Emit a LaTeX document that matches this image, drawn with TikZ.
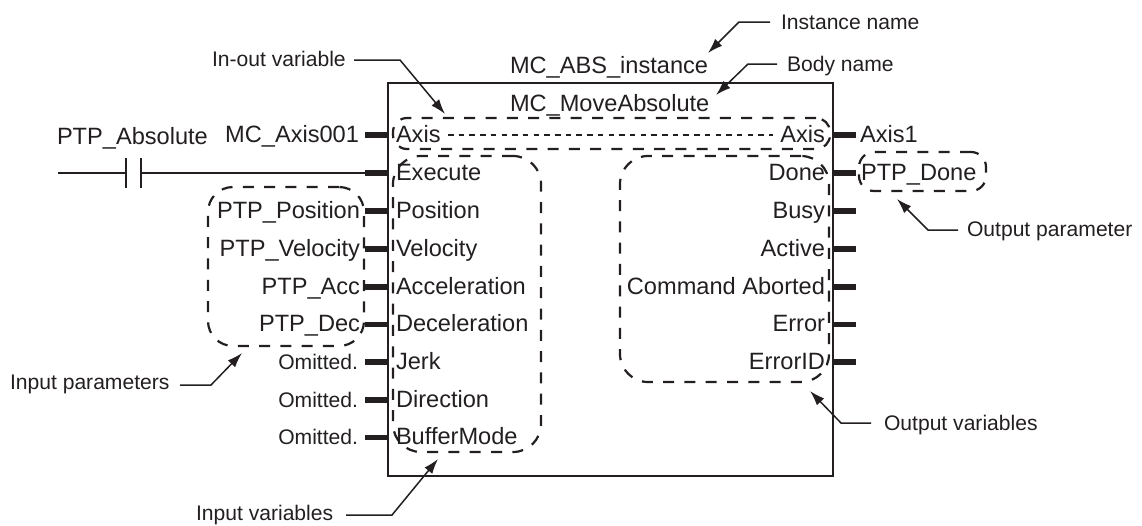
\documentclass[tikz,border=0pt]{standalone}
\usepackage{fontspec}
\setmainfont{Liberation Sans}
\usetikzlibrary{arrows.meta,calc}
\definecolor{ink}{HTML}{231F20}
\newcommand{\bigtxt}{\fontsize{23.6}{26}\selectfont}
\newcommand{\smalltxt}{\fontsize{21.1}{24}\selectfont}
\tikzset{
  lbl/.style={inner sep=0pt,outer sep=0pt,text=ink,font=\bigtxt},
  pinL/.style={lbl,anchor=base west},
  pinR/.style={lbl,anchor=base east},
  omit/.style={inner sep=0pt,outer sep=0pt,text=ink,font=\smalltxt,anchor=base east},
  note/.style={inner sep=0pt,outer sep=0pt,text=ink,font=\smalltxt,anchor=base west},
  stub/.style={draw=ink,line width=5.5pt},
  wire/.style={draw=ink,line width=2.3pt},
  leader/.style={draw=ink,line width=1.5pt,-{Latex[length=15pt,width=10pt]}},
  dbox/.style={draw=ink,line width=2.2pt,dash pattern=on 11pt off 10.3pt,inner sep=0pt,outer sep=0pt,rectangle,rounded corners=#1},
}
\begin{document}
\begin{tikzpicture}[x=1pt,y=-1pt]
\useasboundingbox (0,0) rectangle (1142,525);
% main block
\node[draw=ink,line width=2.4pt,inner sep=0pt,outer sep=0pt,minimum width=445pt,minimum height=393pt] (block) at (610.5,279.5) {};
% stub coordinates
\foreach \n/\y in {a/135,b/173,c/211,d/249,e/287,f/324.5,g/362,h/400,i/437.5}{
  \coordinate (L\n o) at (365,\y);
  \coordinate (L\n i) at (388,\y);
}
\foreach \n/\y in {a/135,b/173,c/211,d/249,e/287,f/324.5,g/362}{
  \coordinate (R\n i) at (833,\y);
  \coordinate (R\n o) at (856,\y);
}
\foreach \n in {a,b,c,d,e,f,g,h,i}{ \draw[stub] (L\n o) -- (L\n i); }
\foreach \n in {a,b,c,d,e,f,g}{ \draw[stub] (R\n i) -- (R\n o); }
% contact
\coordinate (wstart) at (58,173);
\coordinate (cA) at (126,173);
\coordinate (cB) at (141,173);
\coordinate (cAt) at (126,158); \coordinate (cAb) at (126,188);
\coordinate (cBt) at (141,158); \coordinate (cBb) at (141,188);
\draw[wire] (wstart) -- (cA);
\draw[wire] (cB) -- (Lbo);
\draw[wire] (cAt) -- (cAb);
\draw[wire] (cBt) -- (cBb);
% dashed groups
\node[dbox=14pt,minimum width=437pt,minimum height=31pt] (inout) at (611.5,133.5) {};
\node[dbox=28pt,minimum width=148pt,minimum height=296pt] (invars) at (467,304) {};
\node[dbox=28pt,minimum width=209pt,minimum height=226pt] (outvars) at (724.5,269) {};
\node[dbox=25pt,minimum width=156pt,minimum height=159pt] (inparams) at (286,266.5) {};
\node[dbox=15pt,minimum width=127pt,minimum height=39pt] (outparam) at (922.5,171.5) {};
% titles
\node[lbl,anchor=base west] (inst) at (510,73) {MC\_ABS\_instance};
\node[lbl,anchor=base west] (body) at (510,111) {MC\_MoveAbsolute};
\node[lbl,anchor=base west] (ptpabs) at (57,144) {PTP\_Absolute};
% left params
\node[pinR] (axis001) at (359,142) {MC\_Axis001};
\node[pinR] (ptppos) at (360,218) {PTP\_Position};
\node[pinR] (ptpvel) at (360,256) {PTP\_Velocity};
\node[pinR] (ptpacc) at (360,294) {PTP\_Acc};
\node[pinR] (ptpdec) at (360,331.5) {PTP\_Dec};
\node[omit] (om1) at (358,369) {Omitted.};
\node[omit] (om2) at (358,407) {Omitted.};
\node[omit] (om3) at (358,444.5) {Omitted.};
% inner left
\node[pinL] (axisL) at (396,142) {Axis};
\node[pinL] (exec) at (396,180) {Execute};
\node[pinL] (pos) at (396,218) {Position};
\node[pinL] (vel) at (396,256) {Velocity};
\node[pinL] (acc) at (396,294) {Acceleration};
\node[pinL] (dec) at (396,331.5) {Deceleration};
\node[pinL] (jerk) at (396,369) {Jerk};
\node[pinL] (dir) at (396,407) {Direction};
\node[pinL] (buf) at (396,444.5) {BufferMode};
% inner right
\node[pinR] (axisR) at (825,142) {Axis};
\node[pinR] (done) at (825,180) {Done};
\node[pinR] (busy) at (825,218) {Busy};
\node[pinR] (active) at (825,256) {Active};
\node[pinR] (cmd) at (825,294) {Command Aborted};
\node[pinR] (err) at (825,331.5) {Error};
\node[pinR] (errid) at (825,369) {ErrorID};
% right params
\node[pinL] (axis1) at (860,142) {Axis1};
\node[pinL] (ptpdone) at (861,180) {PTP\_Done};
% dotted axis link
\coordinate (dotA) at (448,135);
\coordinate (dotB) at (773,135);
\draw[draw=ink,line width=2pt,dash pattern=on 5.5pt off 5.2pt] (dotA) -- (dotB);
% callouts
\node[note] (nInout) at (212,66) {In-out variable};
\node[note] (nInst) at (781,29) {Instance name};
\node[note] (nBody) at (787,71) {Body name};
\node[note] (nOpar) at (967,236) {Output parameter};
\node[note] (nOvar) at (884,430) {Output variables};
\node[note] (nIpar) at (10,389) {Input parameters};
\node[note] (nIvar) at (196,520) {Input variables};
\coordinate (tInout) at (445,114);
\coordinate (tInst) at (708,53);
\coordinate (tBody) at (716,95);
\coordinate (tOpar) at (897,199);
\coordinate (tOvar) at (810,391);
\coordinate (tIpar) at (242,353);
\coordinate (tIvar) at (438,459);
\draw[leader] (354,60) -- (400,60) -- (tInout);
\draw[leader] (770,22) -- (739,22) -- (tInst);
\draw[leader] (777,64) -- (748,64) -- (tBody);
\draw[leader] (958,230) -- (928,230) -- (tOpar);
\draw[leader] (871,423) -- (841,423) -- (tOvar);
\draw[leader] (180,385) -- (211,385) -- (tIpar);
\draw[leader] (346,515) -- (392,515) -- (tIvar);
\end{tikzpicture}
\end{document}
